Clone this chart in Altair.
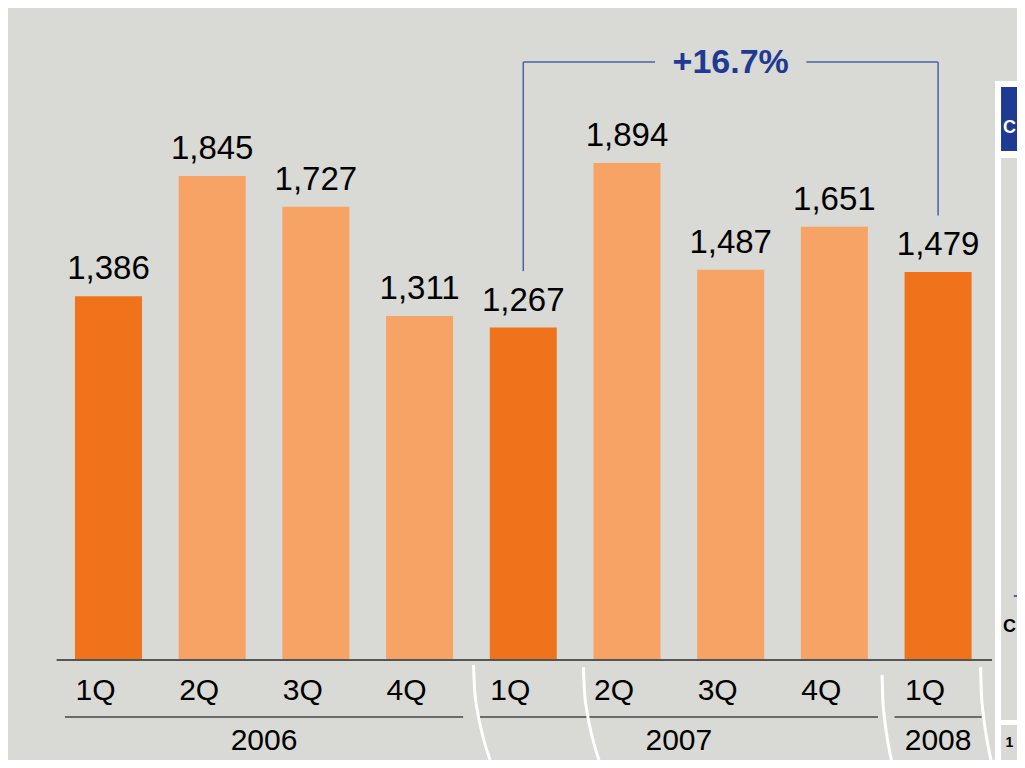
import altair as alt
import pandas as pd

# ---------------- data ----------------
quarters = ["1Q", "2Q", "3Q", "4Q", "1Q", "2Q", "3Q", "4Q", "1Q"]
years = ["2006", "2006", "2006", "2006", "2007", "2007", "2007", "2007", "2008"]
values = [1386, 1845, 1727, 1311, 1267, 1894, 1487, 1651, 1479]
is_first_quarter = [True, False, False, False, True, False, False, False, True]
growth_text = "+16.7%"
growth_from = 4   # bar index (1Q 2007)
growth_to = 8     # bar index (1Q 2008)

# ---------------- style ----------------
BG = "#d9d9d5"
DARK = "#f0731b"
LIGHT = "#f7a366"
BLUE = "#1f3a93"
BLUE_LINE = "#4a62a6"
FONT = "Liberation Sans"

Y_BOTTOM = -381.1
XS = alt.Scale(domain=[-0.969, 8.761], nice=False, zero=False)
YS = alt.Scale(domain=[Y_BOTTOM, 2484.8], nice=False, zero=False)


def X(f):
    return alt.X(f, type="quantitative", scale=XS, axis=None)


def Y(f):
    return alt.Y(f, type="quantitative", scale=YS, axis=None)


idx = list(range(len(values)))
bars = pd.DataFrame({
    "i": idx,
    "q": quarters,
    "year": years,
    "value": values,
    "kind": ["first" if f else "other" for f in is_first_quarter],
})
bars["x0"] = bars["i"] - 0.323
bars["x1"] = bars["i"] + 0.323
bars["zero"] = 0
bars["label"] = bars["value"].map(lambda v: f"{v:,}")

yr = bars.groupby("year")["i"].agg(["min", "max"]).reset_index()
yr["mid"] = (yr["min"] + yr["max"]) / 2
yr["x0"] = yr["min"] - 0.42
yr["x1"] = yr["max"] + 0.42
yr["line_y"] = -217
yr["zero"] = 0

# ---------- right-hand (cropped) panel ----------
panel = pd.DataFrame({
    "x0": [8.549, 8.607, 8.607, 8.607],
    "x1": [9.6, 9.6, 9.6, 9.6],
    "y0": [-700, 1939.8, -228.7, -700],
    "y1": [2206.6, 2183.7, 1913, -247.7],
    "c": ["white", BLUE, BG, BG],
    "o": [0, 1, 2, 3],
})

# ---------- decorative axis-break curves ----------
break_top_x = [3.52, 4.58, 7.46, 8.41]
break_shift = [0.16, 0.15, 0.09, 0.10]
break_top_y = [-19, -27, -57, -27]
rows = []
for k in range(len(break_top_x)):
    for t in [0, 0.25, 0.5, 0.75, 1.0]:
        rows.append({
            "id": k, "t": t,
            "x": break_top_x[k] + break_shift[k] * t * t,
            "y": break_top_y[k] + (Y_BOTTOM - break_top_y[k]) * t,
        })
breaks = pd.DataFrame(rows)

# ---------------- layers ----------------
panel_layer = alt.Chart(panel).mark_rect().encode(
    x=X("x0"), x2="x1", y=Y("y0"), y2="y1",
    color=alt.Color("c:N", scale=None), order="o:Q",
)
panel_line = alt.Chart(pd.DataFrame({"x0": [8.73], "x1": [9.6], "y": [243.9]})).mark_rule(
    color=BLUE, strokeWidth=1.5
).encode(x=X("x0"), x2="x1", y=Y("y"))
panel_texts = pd.DataFrame({
    "x": [8.625, 8.625, 8.65],
    "y": [2010, 105, -330],
    "t": ["C", "C", "1"],
    "c": ["white", "black", "black"],
    "s": [18, 18, 14],
})
panel_text = alt.Chart(panel_texts).mark_text(
    align="left", baseline="alphabetic", font=FONT, fontWeight="bold"
).encode(
    x=X("x"), y=Y("y"), text="t:N",
    color=alt.Color("c:N", scale=None), size=alt.Size("s:Q", scale=None),
)

bar_layer = alt.Chart(bars).mark_bar().encode(
    x=X("x0"), x2="x1", y=Y("value"), y2="zero",
    color=alt.Color("kind:N", scale=alt.Scale(domain=["first", "other"], range=[DARK, LIGHT]), legend=None),
)

value_labels = alt.Chart(bars).mark_text(
    font=FONT, fontSize=33, baseline="alphabetic", dy=-17, color="black"
).encode(x=X("i"), y=Y("value"), text="label:N")

baseline = alt.Chart(pd.DataFrame({"x0": [-0.5], "x1": [8.52], "y": [0]})).mark_rule(
    color="#555555", strokeWidth=2
).encode(x=X("x0"), x2="x1", y=Y("y"))

quarter_labels = alt.Chart(bars).mark_text(
    font=FONT, fontSize=30, baseline="alphabetic", dy=40, dx=-13, color="black"
).encode(x=X("i"), y=Y("zero"), text="q:N")

year_lines = alt.Chart(yr).mark_rule(color="#444444", strokeWidth=1.5).encode(
    x=X("x0"), x2="x1", y=Y("line_y")
)
year_labels = alt.Chart(yr).mark_text(
    font=FONT, fontSize=30, baseline="alphabetic", dy=90, color="black"
).encode(x=X("mid"), y=Y("zero"), text="year:N")

break_layer = alt.Chart(breaks).mark_line(
    color="white", strokeWidth=3, interpolate="monotone"
).encode(x=X("x"), y=Y("y"), detail="id:N", order="t:Q")

# ---------------- growth bracket ----------------
bracket_top = 2279
mid = (growth_from + growth_to) / 2
gap = 0.73
vert = pd.DataFrame({
    "x": [growth_from, growth_to],
    "y0": [bracket_top, bracket_top],
    "y1": [values[growth_from] + 215, values[growth_to] + 215],
})
horiz = pd.DataFrame({
    "x0": [growth_from, mid + gap],
    "x1": [mid - gap, growth_to],
    "y": [bracket_top, bracket_top],
})
bracket_v = alt.Chart(vert).mark_rule(color=BLUE_LINE, strokeWidth=1.5).encode(
    x=X("x"), y=Y("y0"), y2="y1"
)
bracket_h = alt.Chart(horiz).mark_rule(color=BLUE_LINE, strokeWidth=1.5).encode(
    x=X("x0"), x2="x1", y=Y("y")
)
bracket_text = alt.Chart(pd.DataFrame({"x": [mid], "y": [bracket_top], "t": [growth_text]})).mark_text(
    font=FONT, fontSize=34, fontWeight="bold", color=BLUE, baseline="alphabetic", dy=11
).encode(x=X("x"), y=Y("y"), text="t:N")

chart = alt.layer(
    panel_layer, panel_line, panel_text,
    bar_layer, value_labels, baseline, quarter_labels,
    year_lines, year_labels, break_layer,
    bracket_v, bracket_h, bracket_text,
).properties(
    width=1009, height=752,
    autosize=alt.AutoSizeParams(type="none"),
    padding=0,
    background=BG,
).configure_view(stroke=None)

chart.save("out.html", embed_options={"renderer": "svg", "actions": False})
